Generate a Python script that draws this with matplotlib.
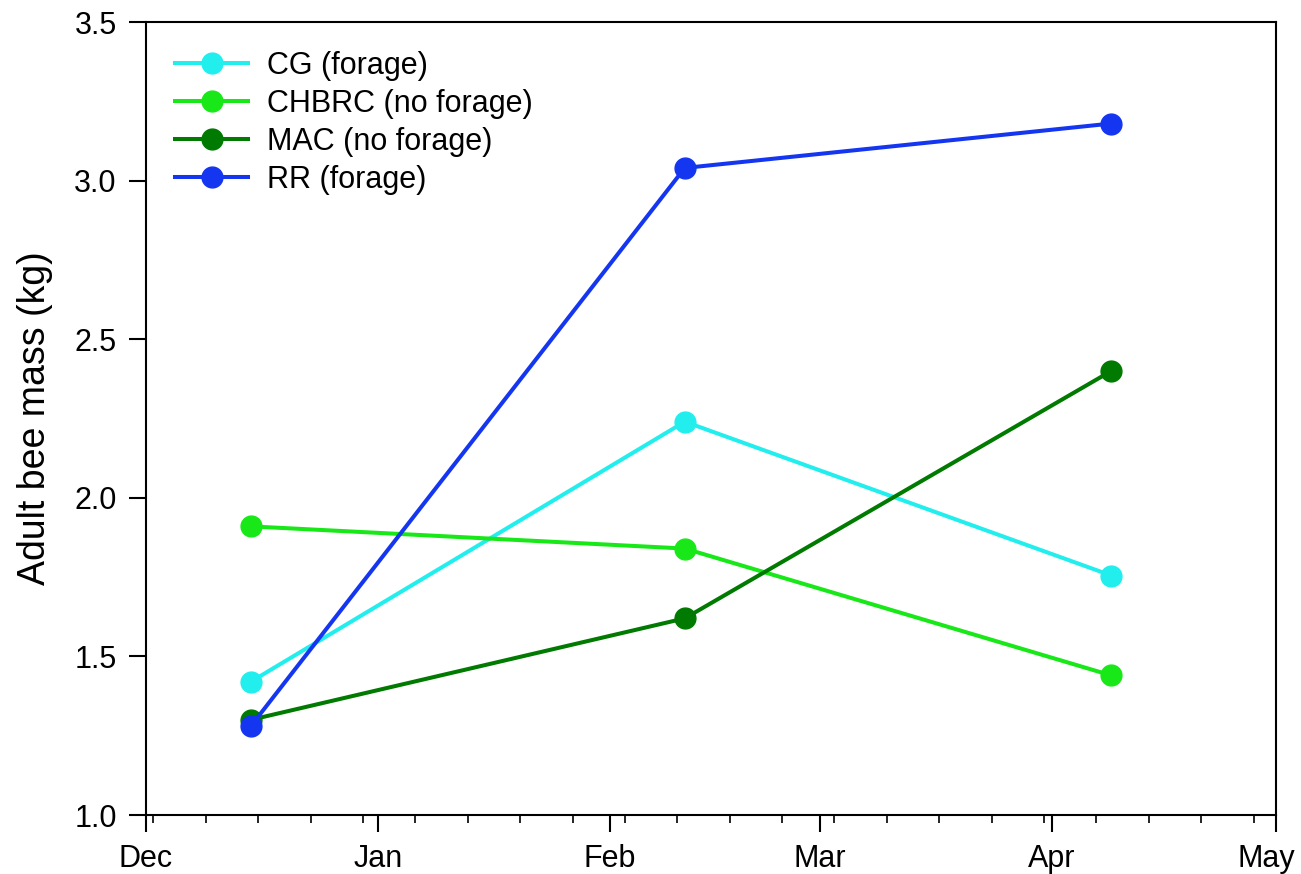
import datetime as dt
import matplotlib
matplotlib.use('Agg')
import matplotlib.pyplot as plt
import matplotlib.dates as mdates
import matplotlib.transforms as mtransforms

plt.rcParams['font.family'] = ['Liberation Sans', 'DejaVu Sans']

# Sampling dates (one winter season)
dates = [dt.datetime(2013, 12, 15), dt.datetime(2014, 2, 11), dt.datetime(2014, 4, 9)]

# Adult bee mass per apiary (kg)
labels = ['CG (forage)', 'CHBRC (no forage)', 'MAC (no forage)', 'RR (forage)']
cg = [1.42, 2.24, 1.755]
chbrc = [1.91, 1.84, 1.44]
mac = [1.30, 1.62, 2.40]
rr = [1.28, 3.04, 3.18]
colors = ['#22EEEE', '#18E818', '#007A00', '#1436F0']

fig = plt.figure(figsize=(13.01, 8.74), dpi=100)
ax = fig.add_axes([0.1122, 0.0675, 0.8686, 0.9073])

for vals, lab, c in zip([cg, chbrc, mac, rr], labels, colors):
    ax.plot(dates, vals, '-o', color=c, label=lab, lw=2.9, ms=15, zorder=3)

ax.set_xlim(dt.datetime(2013, 12, 1), dt.datetime(2014, 5, 1))
ax.set_ylim(1.0, 3.5)
ax.set_yticks([1.0, 1.5, 2.0, 2.5, 3.0, 3.5])
ax.yaxis.set_major_formatter(matplotlib.ticker.FormatStrFormatter('%.1f'))
ax.xaxis.set_major_locator(mdates.MonthLocator())
ax.xaxis.set_major_formatter(mdates.DateFormatter('%b'))
# weekly minor ticks counted from the first of December
ax.xaxis.set_minor_locator(mdates.RRuleLocator(
    mdates.rrulewrapper(mdates.DAILY, interval=7, dtstart=dt.datetime(2013, 12, 1))))

ax.tick_params(axis='both', which='major', direction='out', length=12, width=1.5,
               labelsize=22, pad=9)
ax.tick_params(axis='x', which='minor', direction='out', length=6, width=1.2)
for s in ax.spines.values():
    s.set_linewidth(1.5)

ax.set_ylabel('Adult bee mass (kg)', fontsize=27, labelpad=15)

ax.legend(loc='upper left', frameon=False, fontsize=22, handlelength=2.4,
          labelspacing=0.26, borderaxespad=0.55, handletextpad=0.6)

# keep the last month label inside the figure
fig.canvas.draw()
last = ax.get_xticklabels()[-1]
last.set_transform(last.get_transform() +
                   mtransforms.ScaledTranslation(-10 / 100, 0, fig.dpi_scale_trans))

fig.savefig('out.png', dpi=100)
